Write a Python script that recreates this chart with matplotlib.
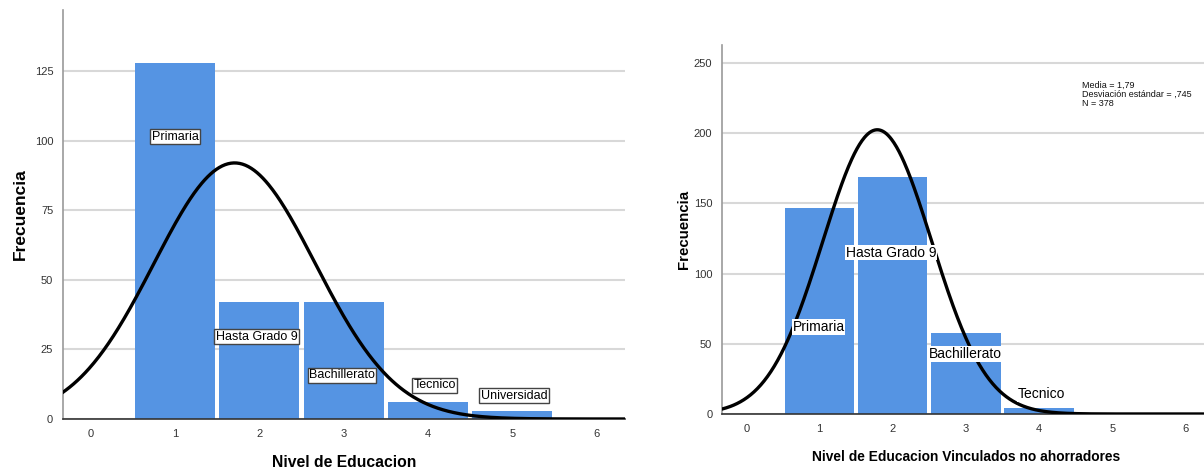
import numpy as np
import matplotlib
matplotlib.use("Agg")
import matplotlib.pyplot as plt

# ---- data ----
levels = [1, 2, 3, 4, 5]
labels_left = ["Primaria", "Hasta Grado 9", "Bachillerato", "Tecnico", "Universidad"]
freq_left = [128, 42, 42, 6, 3]

levels_right = [1, 2, 3, 4]
labels_right = ["Primaria", "Hasta Grado 9", "Bachillerato", "Tecnico"]
freq_right = [147, 169, 58, 4]
mean_right = 1.79
sd_right = 0.745
n_right = 378

# label positions (frequency value where each label sits)
label_y_left = [101.5, 29.5, 15.8, 12.2, 8.3]
label_x_left = [1.0, 1.97, 2.98, 4.08, 5.02]
label_y_right = [62, 115, 42.7, 14]
label_x_right = [0.99, 1.98, 2.99, 4.03]

xticks = [0, 1, 2, 3, 4, 5, 6]
yticks_left = [0, 25, 50, 75, 100, 125]
yticks_right = [0, 50, 100, 150, 200, 250]

BLUE = "#5594e3"
GRID = "#d8d8d8"

plt.rcParams['font.family'] = ['Liberation Sans', 'DejaVu Sans']

fig = plt.figure(figsize=(12.04, 4.72), dpi=100)

def normal_curve(mean, sd, n, x):
    return n / (sd * np.sqrt(2 * np.pi)) * np.exp(-0.5 * ((x - mean) / sd) ** 2)

def style_axes(ax, yticks, ylim, xlim):
    ax.set_xlim(*xlim)
    ax.set_ylim(*ylim)
    ax.set_xticks(xticks)
    ax.set_yticks(yticks)
    ax.tick_params(length=0, labelsize=8, colors="#333333", pad=7)
    for s in ["top", "right"]:
        ax.spines[s].set_visible(False)
    ax.spines["left"].set_color("#9a9a9a")
    ax.spines["left"].set_linewidth(1.2)
    ax.spines["bottom"].set_color("#333333")
    ax.spines["bottom"].set_linewidth(1.2)
    ax.set_axisbelow(True)
    ax.yaxis.grid(True, color=GRID, linewidth=1.5)

# ---- left chart ----
ax1 = fig.add_axes([0.0523, 0.1123, 0.467, 0.8665])
style_axes(ax1, yticks_left, (0, 147), (-0.33, 6.34))
ax1.bar(levels, freq_left, width=0.95, color=BLUE, zorder=2)
vals = np.repeat(levels, freq_left)
m1 = vals.mean()
s1 = vals.std(ddof=1)
xs = np.linspace(-0.4, 6.5, 600)
ax1.plot(xs, normal_curve(m1, s1, len(vals), xs), color="black", lw=2.4, zorder=3)
for lx, ly, t in zip(label_x_left, label_y_left, labels_left):
    ax1.text(lx, ly, t, ha="center", va="center", fontsize=9, zorder=4,
             bbox=dict(boxstyle="square,pad=0.12", fc="white", ec="#444444", lw=1))
ax1.set_ylabel("Frecuencia", fontsize=12.5, fontweight="bold", labelpad=5)
ax1.set_xlabel("Nivel de Educacion", fontsize=11.3, fontweight="bold", labelpad=12)

# ---- right chart ----
ax2 = fig.add_axes([0.5997, 0.1229, 0.405, 0.7818])
style_axes(ax2, yticks_right, (0, 262.8), (-0.33, 6.33))
ax2.bar(levels_right, freq_right, width=0.95, color=BLUE, zorder=2)
ax2.plot(xs, normal_curve(mean_right, sd_right, n_right, xs), color="black", lw=2.4, zorder=3)
for lx, ly, t in zip(label_x_right, label_y_right, labels_right):
    ax2.text(lx, ly, t, ha="center", va="center", fontsize=10, zorder=4,
             bbox=dict(boxstyle="square,pad=0.05", fc="white", ec="none"))
ax2.text(4.59, 237, "Media = 1,79\nDesviación estándar = ,745\nN = 378",
         ha="left", va="top", fontsize=6.5, linespacing=0.95, color="#111111")
ax2.set_ylabel("Frecuencia", fontsize=10.8, fontweight="bold", labelpad=2)
ax2.set_xlabel("Nivel de Educacion Vinculados no ahorradores", fontsize=9.9,
               fontweight="bold", labelpad=12)

fig.savefig("out.png", dpi=100)
